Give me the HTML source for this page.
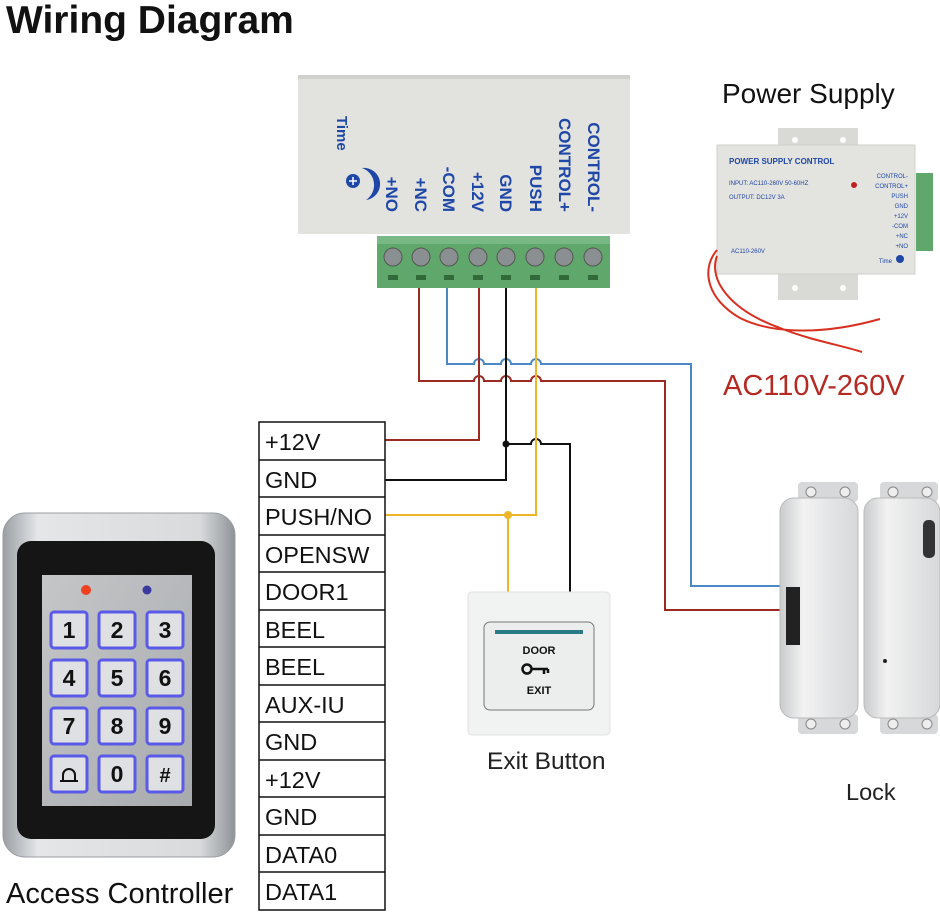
<!DOCTYPE html>
<html><head><meta charset="utf-8"><style>
html,body{margin:0;padding:0;background:#fff;}
svg{display:block;font-family:"Liberation Sans",sans-serif;}
</style></head><body>
<svg width="940" height="912" viewBox="0 0 940 912" xmlns="http://www.w3.org/2000/svg">
<defs>
<linearGradient id="silver" x1="0" y1="0" x2="1" y2="0"><stop offset="0" stop-color="#9a9ea3"/><stop offset="0.15" stop-color="#e4e6e8"/><stop offset="0.85" stop-color="#d8dadc"/><stop offset="1" stop-color="#8f9398"/></linearGradient>
<linearGradient id="steel" x1="0" y1="0" x2="1" y2="1"><stop offset="0" stop-color="#c4c6c8"/><stop offset="1" stop-color="#a8abae"/></linearGradient>
<linearGradient id="lockg" x1="0" y1="0" x2="1" y2="0"><stop offset="0" stop-color="#c9cbcd"/><stop offset="0.3" stop-color="#f2f2f2"/><stop offset="1" stop-color="#d6d8da"/></linearGradient>
</defs>
<text x="6" y="33" font-size="39" font-weight="bold" fill="#111">Wiring Diagram</text>

<!-- main power box -->
<rect x="298" y="75" width="332" height="159" fill="#e2e2df"/>
<rect x="298" y="75" width="332" height="4" fill="#d0d0cc"/>
<g fill="#1f47a8" font-weight="bold" font-size="17">
<text transform="translate(386,212) rotate(90)" text-anchor="end">+NO</text>
<text transform="translate(415,212) rotate(90)" text-anchor="end">+NC</text>
<text transform="translate(443,212) rotate(90)" text-anchor="end">-COM</text>
<text transform="translate(472,212) rotate(90)" text-anchor="end">+12V</text>
<text transform="translate(500,212) rotate(90)" text-anchor="end">GND</text>
<text transform="translate(530,212) rotate(90)" text-anchor="end">PUSH</text>
<text transform="translate(559,212) rotate(90)" text-anchor="end">CONTROL+</text>
<text transform="translate(588,212) rotate(90)" text-anchor="end">CONTROL-</text>
<text transform="translate(337,116) rotate(90)" font-size="15">Time</text>
</g>
<circle cx="353" cy="181" r="7" fill="#1f47a8"/>
<path d="M349 181h8M353 177v8" stroke="#fff" stroke-width="1.5"/>
<path d="M362 168 A14 14 0 0 1 366 200 A18 18 0 0 0 362 168Z" fill="#1f47a8"/>
<!-- terminal block -->
<rect x="377" y="236" width="233" height="52" fill="#5fa76a"/>
<rect x="377" y="236" width="233" height="8" fill="#78b884"/>
<g fill="#8a8f92" stroke="#555" stroke-width="1">
<circle cx="393" cy="257" r="9"/><circle cx="421" cy="257" r="9"/><circle cx="449" cy="257" r="9"/><circle cx="478" cy="257" r="9"/><circle cx="506" cy="257" r="9"/><circle cx="535" cy="257" r="9"/><circle cx="564" cy="257" r="9"/><circle cx="593" cy="257" r="9"/>
</g>
<g fill="#2f6a38">
<rect x="388" y="275" width="10" height="5"/><rect x="416" y="275" width="10" height="5"/><rect x="444" y="275" width="10" height="5"/><rect x="473" y="275" width="10" height="5"/><rect x="501" y="275" width="10" height="5"/><rect x="530" y="275" width="10" height="5"/><rect x="559" y="275" width="10" height="5"/><rect x="588" y="275" width="10" height="5"/>
</g>

<!-- wires -->
<g fill="none" stroke-width="2">
<path d="M419 288V381H474a5 5 0 0 1 10 0H501a5 5 0 0 1 10 0H531a5 5 0 0 1 10 0H665V610H782" stroke="#9b2a22"/>
<path d="M447 288V364H474a5 5 0 0 1 10 0H501a5 5 0 0 1 10 0H531a5 5 0 0 1 10 0H691V586H782" stroke="#4a88c4"/>
<path d="M479 288V440H385" stroke="#9b2a22"/>
<path d="M506 288V480H385" stroke="#111"/>
<path d="M506 444H531a5 5 0 0 1 10 0H570V592" stroke="#111"/>
<path d="M536 288V515H385" stroke="#f0b429"/>
<path d="M508 515V592" stroke="#f0b429"/>
</g>
<circle cx="506" cy="444" r="3.5" fill="#111"/>
<circle cx="508" cy="515" r="4" fill="#f0b429"/>

<!-- table -->
<g stroke="#111" stroke-width="1.5" fill="none">
<rect x="259" y="422" width="126" height="488"/>
<path d="M259 460H385M259 497H385M259 535H385M259 572H385M259 610H385M259 647H385M259 685H385M259 722H385M259 760H385M259 797H385M259 835H385M259 872H385"/>
</g>
<g font-size="23.5" fill="#111">
<text x="265" y="450">+12V</text><text x="265" y="488">GND</text><text x="265" y="525">PUSH/NO</text><text x="265" y="563">OPENSW</text><text x="265" y="600">DOOR1</text><text x="265" y="638">BEEL</text><text x="265" y="675">BEEL</text><text x="265" y="713">AUX-IU</text><text x="265" y="750">GND</text><text x="265" y="788">+12V</text><text x="265" y="825">GND</text><text x="265" y="863">DATA0</text><text x="265" y="900">DATA1</text>
</g>

<!-- keypad -->
<rect x="3" y="513" width="232" height="344" rx="22" fill="url(#silver)" stroke="#9a9ea2"/>
<rect x="17" y="541" width="198" height="298" rx="14" fill="#151515"/>
<rect x="42" y="575" width="150" height="231" fill="url(#steel)"/>
<circle cx="86" cy="590" r="5" fill="#f04020"/><circle cx="147" cy="590" r="4.5" fill="#3a3aa0"/>
<g fill="#dfe0e3" stroke="#5a5ae8" stroke-width="3">
<rect x="51" y="612" width="36" height="36" rx="3"/><rect x="99" y="612" width="36" height="36" rx="3"/><rect x="147" y="612" width="36" height="36" rx="3"/>
<rect x="51" y="660" width="36" height="36" rx="3"/><rect x="99" y="660" width="36" height="36" rx="3"/><rect x="147" y="660" width="36" height="36" rx="3"/>
<rect x="51" y="708" width="36" height="36" rx="3"/><rect x="99" y="708" width="36" height="36" rx="3"/><rect x="147" y="708" width="36" height="36" rx="3"/>
<rect x="51" y="756" width="36" height="36" rx="3"/><rect x="99" y="756" width="36" height="36" rx="3"/><rect x="147" y="756" width="36" height="36" rx="3"/>
</g>
<g font-size="23" font-weight="bold" fill="#111" text-anchor="middle">
<text x="69" y="638">1</text><text x="117" y="638">2</text><text x="165" y="638">3</text>
<text x="69" y="686">4</text><text x="117" y="686">5</text><text x="165" y="686">6</text>
<text x="69" y="734">7</text><text x="117" y="734">8</text><text x="165" y="734">9</text>
<text x="117" y="782">0</text><text x="165" y="782" font-size="20">#</text>
</g>
<path d="M63 781v-6a6 6 0 0 1 12 0v6zM60 781h18" fill="none" stroke="#111" stroke-width="2"/>
<text x="6" y="903" font-size="29" fill="#111">Access Controller</text>

<!-- power supply -->
<text x="722" y="103" font-size="28" fill="#111">Power Supply</text>
<rect x="778" y="128" width="80" height="20" fill="#d9d9d6"/>
<rect x="778" y="272" width="80" height="28" fill="#d9d9d6"/>
<circle cx="795" cy="140" r="3" fill="#fff"/><circle cx="843" cy="140" r="3" fill="#fff"/><circle cx="795" cy="288" r="3" fill="#fff"/><circle cx="843" cy="288" r="3" fill="#fff"/>
<rect x="717" y="145" width="198" height="129" fill="#e3e3e0" stroke="#cfcfcc"/>
<rect x="916" y="173" width="17" height="78" fill="#5fa76a"/>
<g fill="#1f47a8" font-size="7">
<text x="729" y="164" font-weight="bold" font-size="8">POWER SUPPLY CONTROL</text>
<text x="729" y="185" font-size="6">INPUT: AC110-260V 50-60HZ</text>
<text x="729" y="199" font-size="6">OUTPUT: DC12V 3A</text>
<text x="731" y="253" font-size="6">AC110-260V</text>
<g text-anchor="end" font-size="6"><text x="908" y="178">CONTROL-</text><text x="908" y="188">CONTROL+</text><text x="908" y="198">PUSH</text><text x="908" y="208">GND</text><text x="908" y="218">+12V</text><text x="908" y="228">-COM</text><text x="908" y="238">+NC</text><text x="908" y="248">+NO</text><text x="892" y="263">Time</text></g>
</g>
<circle cx="854" cy="185" r="3" fill="#c02020"/>
<circle cx="900" cy="259" r="4" fill="#1f47a8"/>
<path d="M717 250C700 270 708 300 740 318C770 333 820 336 880 319M717 256C708 280 730 310 780 328C810 340 840 345 862 352" fill="none" stroke="#d83020" stroke-width="2"/>
<text x="723" y="395" font-size="29" fill="#b52a22">AC110V-260V</text>

<!-- exit button -->
<rect x="468" y="592" width="142" height="143" rx="4" fill="#f1f2f2" stroke="#e0e0e0"/>
<rect x="484" y="622" width="110" height="88" rx="6" fill="#eceded" stroke="#777"/>
<rect x="495" y="630" width="88" height="4" fill="#2a7a86"/>
<text x="539" y="654" font-size="11" font-weight="bold" text-anchor="middle" fill="#111">DOOR</text>
<text x="539" y="694" font-size="11" font-weight="bold" text-anchor="middle" fill="#111">EXIT</text>
<circle cx="527" cy="669" r="4.5" fill="none" stroke="#111" stroke-width="2.5"/><path d="M531 669h17M544 669v5M548 669v4" stroke="#111" stroke-width="2.5"/>
<text x="487" y="769" font-size="24.5" fill="#222">Exit Button</text>

<!-- lock -->
<rect x="798" y="482" width="60" height="20" rx="4" fill="#d6d8da"/>
<rect x="798" y="714" width="60" height="20" rx="4" fill="#d6d8da"/>
<rect x="780" y="498" width="78" height="220" rx="14" fill="url(#lockg)" stroke="#bbb"/>
<rect x="786" y="587" width="14" height="58" fill="#222"/>
<rect x="880" y="482" width="58" height="20" rx="4" fill="#d6d8da"/>
<rect x="880" y="714" width="58" height="20" rx="4" fill="#d6d8da"/>
<rect x="864" y="498" width="76" height="220" rx="14" fill="url(#lockg)" stroke="#bbb"/>
<rect x="923" y="520" width="12" height="38" rx="5" fill="#333"/>
<circle cx="885" cy="661" r="2" fill="#222"/>
<g fill="#eee" stroke="#888"><circle cx="811" cy="492" r="5"/><circle cx="845" cy="492" r="5"/><circle cx="811" cy="724" r="5"/><circle cx="845" cy="724" r="5"/><circle cx="893" cy="492" r="5"/><circle cx="927" cy="492" r="5"/><circle cx="893" cy="724" r="5"/><circle cx="927" cy="724" r="5"/></g>
<text x="846" y="800" font-size="23.5" fill="#222">Lock</text>
</svg>
</body></html>
